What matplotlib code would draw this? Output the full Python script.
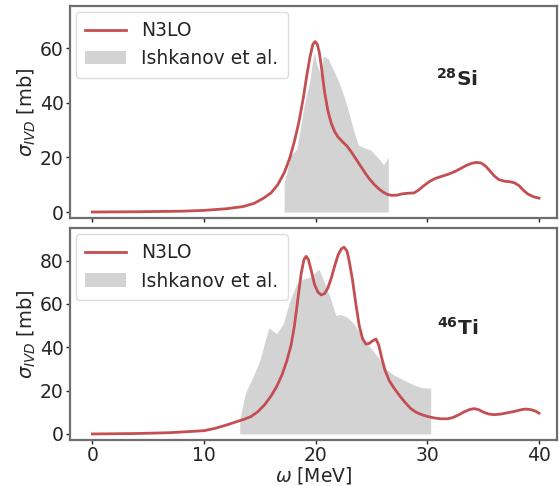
import numpy as np
import matplotlib
matplotlib.use('Agg')
import matplotlib.pyplot as plt

# 28Si, N3LO curve
si_w = [0, 4, 8, 10, 12, 13.5, 14.5, 15.3, 16, 16.6, 17.2, 17.7, 18.1, 18.5, 18.9, 19.2,
        19.5, 19.75, 19.95, 20.15, 20.35, 20.55, 20.8, 21.1, 21.4, 21.7, 22.0, 22.4, 22.8,
        23.2, 23.6, 24.0, 24.4, 24.8, 25.2, 25.6, 26.0, 26.4, 26.8, 27.3, 27.8, 28.3, 28.8,
        29.2, 29.7, 30.2, 30.7, 31.3, 31.9, 32.5, 33.0, 33.5, 34.0, 34.4, 34.8, 35.2, 35.6,
        36.0, 36.4, 36.9, 37.4, 37.8, 38.2, 38.6, 39.0, 39.5, 40]
si_th = [0, 0.1, 0.3, 0.6, 1.2, 2, 3.2, 5, 7, 10, 14.5, 20, 26, 33, 42, 50,
         57, 61.5, 62.5, 61.5, 58, 52, 44, 37, 32.5, 29.5, 27.5, 25.8, 24.2,
         22, 19.5, 17, 14.5, 12.2, 10.3, 8.7, 7.4, 6.5, 6.1, 6.2, 6.7, 6.9, 7,
         8, 9.7, 11.2, 12.3, 13.1, 13.9, 14.9, 16.0, 17.1, 17.9, 18.2, 18.0, 16.9, 15.1,
         13.2, 11.9, 11.3, 11.1, 10.7, 9.7, 8.0, 6.6, 5.6, 5.1]

# 28Si, Ishkanov et al.
si_exp_w = [17.17, 17.18, 17.4, 17.7, 18.1, 18.3, 18.6, 19.0, 19.5, 19.7, 19.9, 20.1, 20.4,
            20.7, 21.1, 21.6, 22.0, 22.5, 22.9, 23.4, 23.8, 24.4, 24.9, 25.5, 26.1, 26.5]
si_exp = [0, 11.2, 14, 20.3, 22.2, 23, 30, 39.9, 48.4, 55, 58.5, 54, 50.9,
          57.2, 56.3, 52, 48.4, 42.9, 37.4, 30, 24.6, 23.4, 22.8, 20.3, 17.3, 20.1]

# 46Ti, N3LO curve
ti_w = [0, 4, 7, 10, 11, 12, 13, 13.6, 14.2, 14.8, 15.4, 16.0, 16.5, 17.0, 17.4, 17.8,
        18.1, 18.4, 18.7, 18.95, 19.15, 19.35, 19.6, 19.9, 20.2, 20.5, 20.8, 21.1, 21.4,
        21.7, 22.0, 22.3, 22.55, 22.8, 23.0, 23.3, 23.6, 23.9, 24.2, 24.5, 24.8, 25.1,
        25.4, 25.65, 25.9, 26.2, 26.6, 27.0, 27.5, 28.0, 28.5, 29.0, 29.5, 30.0, 30.6,
        31.2, 31.8, 32.3, 32.8, 33.3, 33.8, 34.2, 34.6, 35.0, 35.5, 36.0, 36.6, 37.2,
        37.8, 38.4, 38.8, 39.3, 39.7, 40]
ti_th = [0, 0.2, 0.6, 1.5, 2.6, 4.1, 5.8, 6.8, 8, 10.2, 13.3, 17.5, 21.8, 27.5, 33.5, 41,
         50, 62, 74, 80.5, 82, 80.5, 75.5, 69, 65.5, 64.2, 64.8, 67.5, 72,
         77.5, 82.5, 85.5, 86.2, 84.5, 80, 71, 60, 50, 44, 41.5, 41.8, 43,
         43.8, 41, 35.5, 29.5, 24.5, 21.3, 17.8, 14.6, 11.8, 10, 8.9, 8.1, 7.4,
         7, 7, 7.6, 8.8, 10.2, 11.3, 11.7, 11.2, 10.1, 9.2, 8.9, 9.2, 9.8,
         10.4, 11.2, 11.5, 11.2, 10.5, 9.6]

# 46Ti, Ishkanov et al.
ti_exp_w = [13.2, 13.21, 13.7, 14.4, 15.0, 15.8, 16.5, 17.1, 17.7, 18.3, 18.9, 19.5,
            20.3, 20.7, 21.3, 21.8, 22.2, 22.8, 23.4, 24.0, 24.6, 25.2, 25.8, 26.4,
            27.0, 27.9, 28.8, 29.5, 30.3]
ti_exp = [0, 6.6, 18.8, 26.5, 34, 49, 46.3, 51, 61.6, 69.3, 71.6, 72.3,
          76.1, 70.8, 63, 54.7, 55.2, 54, 51, 46.3, 41.7, 38, 34, 29.5,
          27.2, 24.9, 22.6, 21.4, 21.1]

red = '#c44e52'
grey = '#d3d3d3'
spine_col = '#6e6e6e'
text_col = '#262626'

plt.rcParams['font.size'] = 14
plt.rcParams['text.color'] = text_col
plt.rcParams['axes.labelcolor'] = text_col
plt.rcParams['xtick.color'] = text_col
plt.rcParams['ytick.color'] = text_col

fig = plt.figure(figsize=(5.59, 4.86), dpi=100)
ax1 = fig.add_axes([0.1252, 0.5514, 0.871, 0.436])
ax2 = fig.add_axes([0.1252, 0.0955, 0.871, 0.435])

panels = [
    (ax1, si_w, si_th, si_exp_w, si_exp, (-2.2, 75.5), [0, 20, 40, 60], r'$\mathbf{^{28}Si}$', 49),
    (ax2, ti_w, ti_th, ti_exp_w, ti_exp, (-2.6, 95), [0, 20, 40, 60, 80], r'$\mathbf{^{46}Ti}$', 49),
]
for ax, w, th, ew, ex, ylim, yt, lab, ly in panels:
    ax.fill_between(ew, 0, ex, color=grey, linewidth=0, label='Ishkanov et al.')
    ax.plot(w, th, color=red, lw=2, label='N3LO')
    ax.set_xlim(-2, 41.6)
    ax.set_ylim(*ylim)
    ax.set_yticks(yt)
    ax.set_xticks([0, 10, 20, 30, 40])
    ax.set_ylabel(r'$\sigma_{IVD}$ [mb]', fontsize=14, labelpad=1)
    for s in ax.spines.values():
        s.set_color(spine_col)
        s.set_linewidth(1.6)
    ax.tick_params(length=3, width=1, color=text_col, labelsize=13.5, pad=1.5)
    ax.text(32.7, ly, lab, fontsize=14.5, ha='center', va='center')
    handles, labels = ax.get_legend_handles_labels()
    ax.legend(handles[::-1], labels[::-1], loc='upper left', fontsize=13.5,
              framealpha=1, edgecolor='#dddddd', borderaxespad=0.3,
              handlelength=2.2, borderpad=0.5)

ax1.tick_params(labelbottom=False)
ax2.set_xlabel(r'$\omega$ [MeV]', fontsize=13.5, labelpad=0)

fig.savefig('out.png', dpi=100)
